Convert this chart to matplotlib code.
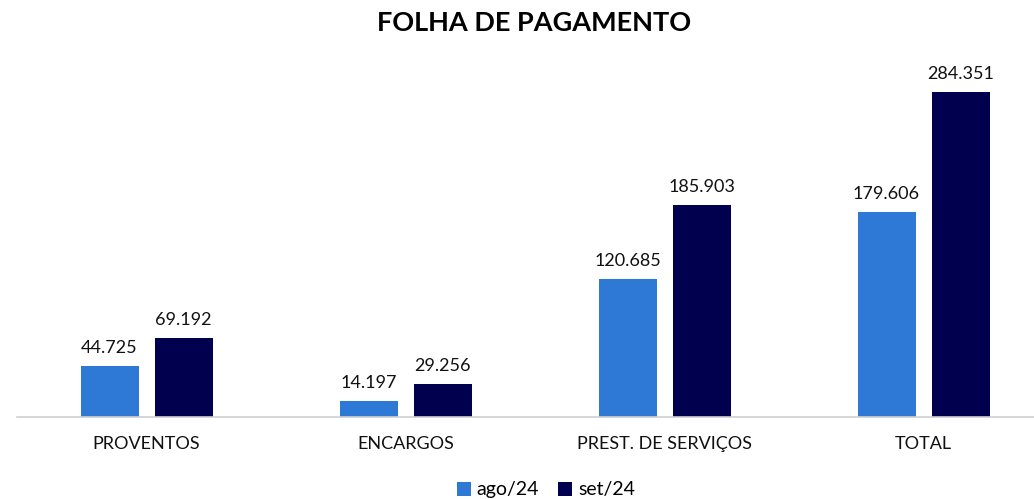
import matplotlib
matplotlib.use("Agg")
import matplotlib.pyplot as plt
import numpy as np

plt.rcParams['font.family'] = ['Lato', 'DejaVu Sans']

categories = ["PROVENTOS", "ENCARGOS", "PREST. DE SERVIÇOS", "TOTAL"]
series_names = ["ago/24", "set/24"]
ago_values = [44725, 14197, 120685, 179606]
set_values = [69192, 29256, 185903, 284351]
colors = ["#2E78D6", "#00004F"]

W, H = 1034, 499
fig = plt.figure(figsize=(W / 100, H / 100), dpi=100)
ax_left, ax_right = 17, 1034
ax_bottom, ax_top = 417, 60
ax = fig.add_axes([ax_left / W, 1 - ax_bottom / H, (ax_right - ax_left) / W, (ax_bottom - ax_top) / H])

cat_px = 259.0
x = np.arange(len(categories))
offset = 37 / cat_px
width = 58 / cat_px
ax.set_xlim(-0.5, -0.5 + (ax_right - ax_left) / cat_px)
scale = 325 / 284351  # px per unit
ax.set_ylim(0, (ax_bottom - ax_top) / scale)

fmt = lambda v: f"{v:,}".replace(",", ".")
for vals, off, c, name in [(ago_values, -offset, colors[0], series_names[0]),
                            (set_values, offset, colors[1], series_names[1])]:
    bars = ax.bar(x + off, vals, width, color=c, label=name)
    for b, v in zip(bars, vals):
        ax.annotate(fmt(v), (b.get_x() + b.get_width() / 2, v), xytext=(0, 7),
                    textcoords="offset points", ha="center", va="bottom",
                    fontsize=13, color="#111111")

for s in ["top", "right", "left"]:
    ax.spines[s].set_visible(False)
ax.spines["bottom"].set_color("#D0D0D0")
ax.spines["bottom"].set_linewidth(1.2)
ax.set_yticks([])
ax.set_xticks(x)
ax.set_xticklabels(categories, fontsize=13, color="#111111")
ax.tick_params(axis="x", length=0, pad=14)

fig.text(534 / W, 1 - 23 / H, "FOLHA DE PAGAMENTO", ha="center", va="center",
         fontsize=19.5, fontweight="bold", color="#000000")

fig.legend(loc="center", bbox_to_anchor=(546 / W, 1 - 490 / H), ncol=2, frameon=False,
           fontsize=14, handlelength=0.7, handleheight=0.7, handletextpad=0.3,
           columnspacing=1.0)

fig.savefig("out.png", dpi=100)
